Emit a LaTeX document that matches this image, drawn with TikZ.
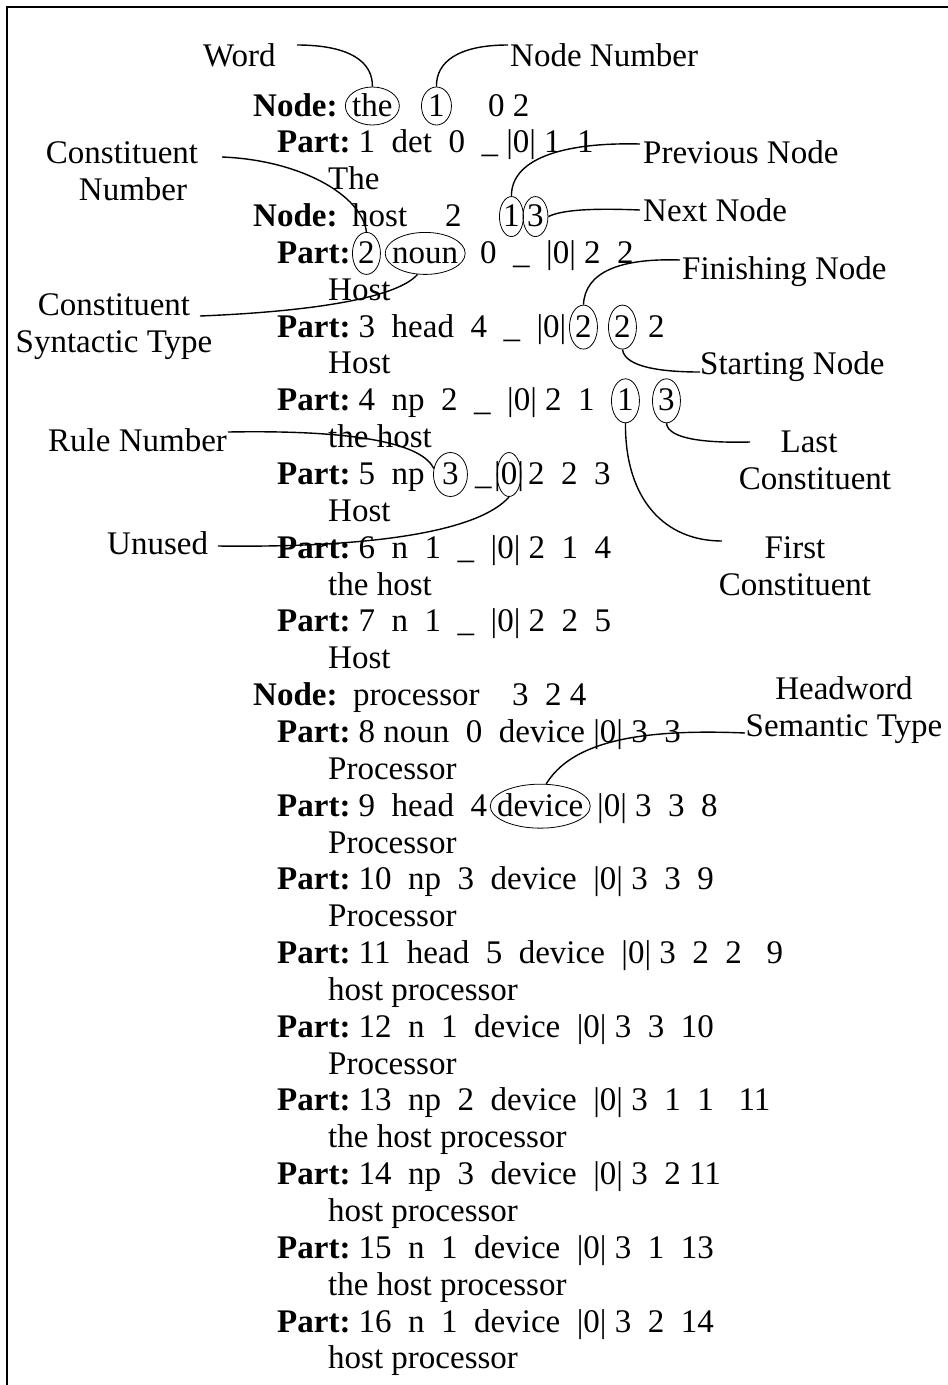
\documentclass[tikz,border=0pt]{standalone}
\usepackage{fontspec}
\setmainfont{Liberation Serif}
\usetikzlibrary{shapes.geometric}
\newcommand\tx[4]{\node[txt] (#1) at (#2,{116+36.85*(#3)}) {#4};}
\newcommand\ov[4]{\node[ov, minimum width=#3, minimum height=#4] (#1) at ([yshift=10pt]#2.base) {};}
\begin{document}
\begin{tikzpicture}[x=1pt,y=-1pt,
  txt/.style={anchor=base west, inner sep=0pt, font=\fontsize{33}{37}\selectfont\frenchspacing},
  lbl/.style={inner sep=0pt, align=center, font=\fontsize{33}{37}\selectfont\frenchspacing},
  ov/.style={draw, ellipse, inner sep=0pt, line width=0.8pt},
  lead/.style={line width=1.4pt}]
\useasboundingbox (0,0) rectangle (948,1385);
\draw[line width=2pt] (7,1385) -- (7,7) -- (948,7);
% ---- rows
\tx{r0a}{253}{0}{\textbf{Node:}}
\tx{r0b}{352}{0}{the}
\tx{r0c}{428}{0}{1}
\tx{r0d}{488}{0}{0~2}
\tx{r1}{277}{1}{\textbf{Part:}~1~~det~~0~~\_~|0|~1~~1}
\tx{r2}{328}{2}{The}
\tx{r3a}{253}{3}{\textbf{Node:}}
\tx{r3b}{352}{3}{host}
\tx{r3c}{445}{3}{2}
\tx{r3d}{503}{3}{1}
\tx{r3e}{527}{3}{3}
\tx{r4a}{277}{4}{\textbf{Part:}}
\tx{r4b}{358}{4}{2}
\tx{r4c}{392}{4}{noun}
\tx{r4d}{480}{4}{0~~\_~~|0|~2~~2}
\tx{r5}{328}{5}{Host}
\tx{r6a}{277}{6}{\textbf{Part:}~3~~head~~4~~\_~~|0|}
\tx{r6b}{575}{6}{2}
\tx{r6c}{614}{6}{2}
\tx{r6d}{648}{6}{2}
\tx{r7}{328}{7}{Host}
\tx{r8a}{277}{8}{\textbf{Part:}~4~~np~~2~~\_~~|0|~2~~1}
\tx{r8b}{617}{8}{1}
\tx{r8c}{658}{8}{3}
\tx{r9}{328}{9}{the host}
\tx{r10a}{277}{10}{\textbf{Part:}~5~~np}
\tx{r10b}{442}{10}{3}
\tx{r10c}{475}{10}{\_}
\tx{r10d}{494}{10}{|0|}
\tx{r10e}{528}{10}{2~~2~~3}
\tx{r11}{328}{11}{Host}
\tx{r12}{277}{12}{\textbf{Part:}~6~~n~~1~~\_~~|0|~2~~1~~4}
\tx{r13}{328}{13}{the host}
\tx{r14}{277}{14}{\textbf{Part:}~7~~n~~1~~\_~~|0|~2~~2~~5}
\tx{r15}{328}{15}{Host}
\tx{r16a}{253}{16}{\textbf{Node:}}
\tx{r16b}{353}{16}{processor}
\tx{r16c}{512}{16}{3}
\tx{r16d}{545}{16}{2~4}
\tx{r17}{277}{17}{\textbf{Part:}~8~noun~~0~~device~|0|~3~~3}
\tx{r18}{328}{18}{Processor}
\tx{r19a}{277}{19}{\textbf{Part:}~9~~head~~4}
\tx{r19b}{497}{19}{device}
\tx{r19c}{597}{19}{|0|~3~~3~~8}
\tx{r20}{328}{20}{Processor}
\tx{r21}{277}{21}{\textbf{Part:}~10~~np~~3~~device~~|0|~3~~3~~9}
\tx{r22}{328}{22}{Processor}
\tx{r23}{277}{23}{\textbf{Part:}~11~~head~~5~~device~~|0|~3~~2~~2~~~9}
\tx{r24}{328}{24}{host processor}
\tx{r25}{277}{25}{\textbf{Part:}~12~~n~~1~~device~~|0|~3~~3~~10}
\tx{r26}{328}{26}{Processor}
\tx{r27}{277}{27}{\textbf{Part:}~13~~np~~2~~device~~|0|~3~~1~~1~~~11}
\tx{r28}{328}{28}{the host processor}
\tx{r29}{277}{29}{\textbf{Part:}~14~~np~~3~~device~~|0|~3~~2~11}
\tx{r30}{328}{30}{host processor}
\tx{r31}{277}{31}{\textbf{Part:}~15~~n~~1~~device~~|0|~3~~1~~13}
\tx{r32}{328}{32}{the host processor}
\tx{r33}{277}{33}{\textbf{Part:}~16~~n~~1~~device~~|0|~3~~2~~14}
\tx{r34}{328}{34}{host processor}
% ---- ellipses
\ov{e0a}{r0b}{54pt}{38pt}
\ov{e0b}{r0c}{30pt}{38pt}
\ov{e3a}{r3d}{24pt}{40pt}
\ov{e3b}{r3e}{25pt}{40pt}
\ov{e4a}{r4b}{28pt}{42pt}
\ov{e4b}{r4c}{80pt}{42pt}
\ov{e6a}{r6b}{28pt}{44pt}
\ov{e6b}{r6c}{28pt}{44pt}
\ov{e8a}{r8b}{28pt}{44pt}
\ov{e8b}{r8c}{28pt}{44pt}
\ov{e10a}{r10b}{34pt}{44pt}
\ov{e10b}{r10d}{24pt}{44pt}
\ov{e19}{r19b}{100pt}{44pt}
% ---- labels
\node[lbl, anchor=base west] (lW) at (203,66) {Word};
\node[lbl, anchor=base west] (lNN) at (510,66) {Node Number};
\node[lbl, anchor=base west] (lPN) at (643,163) {Previous Node};
\node[lbl, anchor=base west] (lNx) at (643,221) {Next Node};
\node[lbl, anchor=base west] (lFN) at (682,279) {Finishing Node};
\node[lbl, anchor=base west] (lSN) at (700,374) {Starting Node};
\node[lbl] (lCN) at (122,171) {Constituent\\\hspace*{22pt}Number};
\node[lbl] (lCS) at (114,327) {Constituent\\Syntactic Type};
\node[lbl, anchor=base west] (lRN) at (48,451) {Rule Number};
\node[lbl, anchor=base west] (lUn) at (107,554) {Unused};
\node[lbl] (lLC) at (815,460) {Last\hspace*{12pt}\\Constituent};
\node[lbl] (lFC) at (795,566) {First\\Constituent};
\node[lbl] (lHW) at (844,710) {Headword\\Semantic Type};
% ---- leader ends
\coordinate (cW) at (297,45);
\coordinate (cNN) at (508,45);
\coordinate (cPN) at (640,144);
\coordinate (cNx) at (640,210);
\coordinate (cCN) at (222,157);
\coordinate (cCS) at (200,316);
\coordinate (cFN) at (680,260);
\coordinate (cSN) at (700,372);
\coordinate (cLC) at (750,442);
\coordinate (cFC) at (722,541);
\coordinate (cRN) at (228,432);
\coordinate (cUn) at (218,546);
\coordinate (cHW) at (745,733);
% ---- leaders
\draw[lead] (cW) .. controls (350,45) and (373,62) .. (e0a.north);
\draw[lead] (cNN) .. controls (458,45) and (436,62) .. (e0b.north);
\draw[lead] (cPN) .. controls (560,142) and (511,160) .. (e3a.north);
\draw[lead] (cNx) .. controls (590,208) and (562,210) .. (e3b.east);
\draw[lead] (cCN) .. controls (300,160) and (362,195) .. (e4a.north);
\draw[lead] (cCS) .. controls (300,312) and (395,300) .. (e4b.250);
\draw[lead] (cFN) .. controls (620,258) and (585,272) .. (e6a.north);
\draw[lead] (e6b.south) .. controls (625,368) and (665,372) .. (cSN);
\draw[lead] (e8b.south) .. controls (668,440) and (710,443) .. (cLC);
\draw[lead] (e8a.south) .. controls (625,500) and (665,541) .. (cFC);
\draw[lead] (cRN) .. controls (340,430) and (420,440) .. (e10a.160);
\draw[lead] (cUn) .. controls (380,548) and (480,530) .. (e10b.south);
\draw[lead] (cHW) .. controls (630,728) and (570,745) .. (e19.75);
\end{tikzpicture}
\end{document}
